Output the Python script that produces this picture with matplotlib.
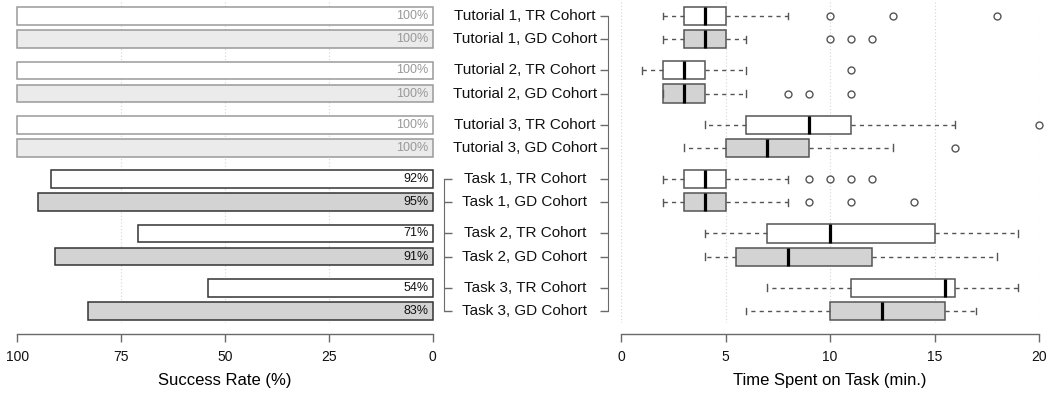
import matplotlib
matplotlib.use("Agg")
import matplotlib.pyplot as plt
import matplotlib.transforms as mtransforms

plt.rcParams['font.family'] = ['Liberation Sans', 'DejaVu Sans']

# ---------------- data ----------------
row_labels = [
    "Tutorial 1, TR Cohort", "Tutorial 1, GD Cohort",
    "Tutorial 2, TR Cohort", "Tutorial 2, GD Cohort",
    "Tutorial 3, TR Cohort", "Tutorial 3, GD Cohort",
    "Task 1, TR Cohort", "Task 1, GD Cohort",
    "Task 2, TR Cohort", "Task 2, GD Cohort",
    "Task 3, TR Cohort", "Task 3, GD Cohort",
]
is_task = [False] * 6 + [True] * 6
is_gd = [False, True] * 6

success_rate = [100, 100, 100, 100, 100, 100, 92, 95, 71, 91, 54, 83]

whislo = [2, 2, 1, 2, 4, 3, 2, 2, 4, 4, 7, 6]
q1 = [3, 3, 2, 2, 6, 5, 3, 3, 7, 5.5, 11, 10]
med = [4, 4, 3, 3, 9, 7, 4, 4, 10, 8, 15.5, 12.5]
q3 = [5, 5, 4, 4, 11, 9, 5, 5, 15, 12, 16, 15.5]
whishi = [8, 6, 6, 6, 16, 13, 8, 8, 19, 18, 19, 17]
fliers = [
    [10, 13, 18], [10, 11, 12],
    [11], [8, 9, 11],
    [20], [16],
    [9, 10, 11, 12], [9, 11, 14],
    [], [],
    [], [],
]

left_ticks = [100, 75, 50, 25, 0]
right_ticks = [0, 5, 10, 15, 20]

# ---------------- layout ----------------
W, H = 1054, 393
gap = 1.35
positions = []
for i in range(len(row_labels)):
    grp, k = divmod(i, 2)
    positions.append(grp * (1 + gap) + k)

fig = plt.figure(figsize=(W / 100, H / 100), dpi=100)
ax_bottom_px = 323
ax1 = fig.add_axes([17.5 / W, (H - ax_bottom_px) / H, 415 / W, ax_bottom_px / H])
ax2 = fig.add_axes([621 / W, (H - ax_bottom_px) / H, 418 / W, ax_bottom_px / H])

ymax = positions[-1] + 12 / 23.14
ymin = -16 / 23.14
axis_col = '#6a6a6a'
px2pt = 0.72

for ax in (ax1, ax2):
    ax.set_ylim(ymax, ymin)
    for s in ax.spines.values():
        s.set_visible(False)
    ax.spines['bottom'].set_visible(True)
    ax.spines['bottom'].set_position(('outward', 11 * px2pt))
    ax.spines['bottom'].set_color(axis_col)
    ax.spines['bottom'].set_linewidth(1.0)
    ax.grid(axis='x', linestyle=(0, (1, 2)), color='#d4d4d4', linewidth=0.8, zorder=0)
    ax.set_axisbelow(True)
    ax.tick_params(axis='x', direction='out', length=8 * px2pt, width=1.0,
                   color=axis_col, labelsize=10, labelcolor='#111111', pad=5.5)

# ---------------- left: success rate ----------------
ax1.set_xlim(100, 0)
ax1.set_xticks(left_ticks)
ax1.set_xticklabels([str(t) for t in left_ticks])
ax1.spines['bottom'].set_bounds(0, 100)
for pos, v, task, gd in zip(positions, success_rate, is_task, is_gd):
    if task:
        fc = '#d3d3d3' if gd else 'white'
        ec = '#333333'
        tc = '#111111'
    else:
        fc = '#ebebeb' if gd else 'white'
        ec = '#9a9a9a'
        tc = '#999999'
    ax1.barh(pos, v, height=0.76, left=0, color=fc, edgecolor=ec, linewidth=1.1,
             zorder=2, clip_on=False)
    ax1.text(1, pos, f"{v}%", ha='right', va='center', fontsize=9, color=tc, zorder=3)

task_pos = [p for p, t in zip(positions, is_task) if t]
ax1.spines['right'].set_visible(True)
ax1.spines['right'].set_position(('outward', 11.5 * px2pt))
ax1.spines['right'].set_bounds(task_pos[0], task_pos[-1])
ax1.spines['right'].set_color(axis_col)
ax1.yaxis.tick_right()
ax1.set_yticks(task_pos)
ax1.set_yticklabels([])
ax1.tick_params(axis='y', direction='out', length=8 * px2pt, width=1.0, color=axis_col)
ax1.set_xlabel("Success Rate (%)", fontsize=12, labelpad=7)

# ---------------- right: time spent ----------------
stats = []
for i in range(len(row_labels)):
    stats.append(dict(whislo=whislo[i], q1=q1[i], med=med[i], q3=q3[i],
                      whishi=whishi[i], fliers=fliers[i], label=row_labels[i]))
box_col = '#555555'
res = ax2.bxp(stats, positions=positions, widths=0.78, orientation='horizontal',
              patch_artist=True, manage_ticks=False, capwidths=0.3,
              boxprops=dict(edgecolor=box_col, linewidth=1.1),
              whiskerprops=dict(color=box_col, linestyle=(0, (3, 3)), linewidth=1.0),
              capprops=dict(color=box_col, linewidth=1.0),
              medianprops=dict(color='black', linewidth=2.3),
              flierprops=dict(marker='o', markerfacecolor='none', markeredgecolor=box_col,
                              markersize=5, markeredgewidth=1.0))
for b, gd in zip(res['boxes'], is_gd):
    b.set_facecolor('#d3d3d3' if gd else 'white')
    b.set_zorder(2)
for fl in res['fliers']:
    fl.set_clip_on(False)

ax2.set_xlim(0, 20)
ax2.set_xticks(right_ticks)
ax2.set_xticklabels([str(t) for t in right_ticks])
ax2.spines['bottom'].set_bounds(0, 20)
ax2.spines['left'].set_visible(True)
ax2.spines['left'].set_position(('outward', 13 * px2pt))
ax2.spines['left'].set_bounds(positions[0], positions[-1])
ax2.spines['left'].set_color(axis_col)
ax2.set_yticks(positions)
ax2.set_yticklabels([])
ax2.tick_params(axis='y', direction='out', length=8 * px2pt, width=1.0, color=axis_col)
ax2.set_xlabel("Time Spent on Task (min.)", fontsize=12, labelpad=7)

# row labels, centred between panels
trans = mtransforms.blended_transform_factory(fig.transFigure, ax2.transData)
for pos, lab in zip(positions, row_labels):
    ax2.text(525 / W, pos, lab, transform=trans, ha='center', va='center',
             fontsize=11, color='#111111', clip_on=False)

fig.savefig("out.png", dpi=100)
